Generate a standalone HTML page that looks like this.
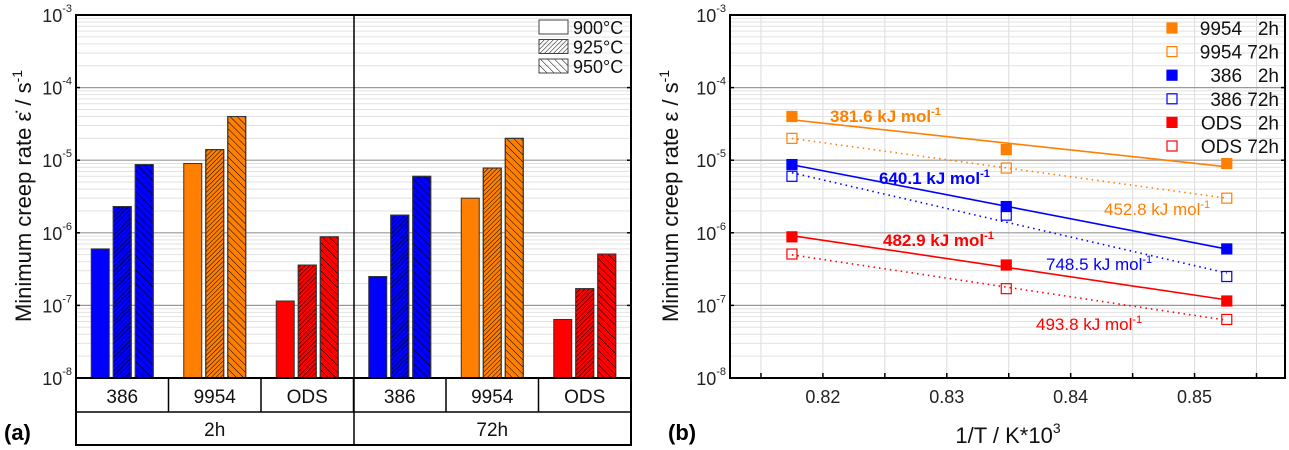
<!DOCTYPE html>
<html><head><meta charset="utf-8"><style>
body{margin:0;background:#fff;}
svg{display:block;font-family:"Liberation Sans",Arial,sans-serif;}
</style></head><body>
<svg id="fig" width="1289" height="450" viewBox="0 0 1289 450">
<defs>
<pattern id="h925" patternUnits="userSpaceOnUse" width="3.2" height="3.2" patternTransform="rotate(45)"><line x1="0" y1="0" x2="0" y2="3.2" stroke="#000" stroke-width="1"/></pattern>
<pattern id="h950" patternUnits="userSpaceOnUse" width="5" height="5" patternTransform="rotate(-45)"><line x1="0" y1="0" x2="0" y2="5" stroke="#000" stroke-width="1"/></pattern>
</defs>
<g id="L"></g><g id="R"></g>
</svg>
<script>
const groups=["2h","72h"];
const materials=["386","9954","ODS"];
const temps=["900°C","925°C","950°C"];
const colors={"386":"#0000ff","9954":"#ff8000","ODS":"#ff0000"};
const v2h_386=[6e-7,2.3e-6,8.7e-6];
const v2h_9954=[9e-6,1.4e-5,4e-5];
const v2h_ODS=[1.15e-7,3.6e-7,8.8e-7];
const v72h_386=[2.5e-7,1.75e-6,6e-6];
const v72h_9954=[3e-6,7.8e-6,2e-5];
const v72h_ODS=[6.4e-8,1.7e-7,5.1e-7];
const invT=[0.8526,0.8348,0.8175];
const yTickExp=[-3,-4,-5,-6,-7,-8];
const xTicks=[0.82,0.83,0.84,0.85];
const energies=["381.6","452.8","640.1","748.5","482.9","493.8"];

const NS="http://www.w3.org/2000/svg";
function mk(p,t,a,txt){const e=document.createElementNS(NS,t);for(const k in a)e.setAttribute(k,a[k]);if(txt!==undefined)e.textContent=txt;p.appendChild(e);return e;}
const TOP=15,BOT=378;
function ly(v){return TOP+(Math.log10(1e-3)-Math.log10(v))/5*(BOT-TOP);}
const data={"2h":{"386":v2h_386,"9954":v2h_9954,"ODS":v2h_ODS},"72h":{"386":v72h_386,"9954":v72h_9954,"ODS":v72h_ODS}};

function grid(g,x0,x1){
  for(let e=-8;e<-3;e++)for(let m=2;m<=9;m++){const y=ly(m*Math.pow(10,e));
    const l=mk(g,'line',{x1:x0,x2:x1,y1:y,y2:y,stroke:'#e2e2e2','stroke-width':1});
    }
  for(const e of yTickExp){const y=ly(Math.pow(10,e));
    if(e>-8&&e<-3){const l=mk(g,'line',{x1:x0,x2:x1,y1:y,y2:y,stroke:'#9a9a9a','stroke-width':1.2});
    }
    const t=mk(g,'text',{x:x0-4,y:y+7,'font-size':18,'text-anchor':'end',fill:'#222'});
    
    mk(t,'tspan',{},'10');mk(t,'tspan',{dy:-10,'font-size':11},String(e));
    for(const xx of [x0,x1]){mk(g,'line',{x1:xx-(xx==x0?0:4),x2:xx+(xx==x0?4:0),y1:y,y2:y,stroke:'#000','stroke-width':1.5});}
  }
}
// LEFT
(function(){
const g=document.getElementById('L');const X0=76,X1=631;const cw=(X1-X0)/6;
grid(g,X0,X1);
let ci=0;
groups.forEach((gr,gi)=>{materials.forEach((m,mi)=>{const cx=X0+cw*(ci+0.5);
  data[gr][m].forEach((v,ti)=>{const x=cx-31+ti*22;const y=ly(v);
    const r=mk(g,'rect',{x:x,y:y,width:18,height:BOT-y,fill:colors[m],stroke:'#333','stroke-width':1});
    
    if(ti>0){const h=mk(g,'rect',{x:x,y:y,width:18,height:BOT-y,fill:ti==1?'url(#h925)':'url(#h950)',stroke:'#333','stroke-width':1});
      }
  });
  const t=mk(g,'text',{x:cx,y:403,'font-size':19,'text-anchor':'middle',fill:'#111'},m);
  
  mk(g,'line',{x1:X0+cw*(ci+1),x2:X0+cw*(ci+1),y1:BOT,y2:412,stroke:'#000','stroke-width':1.5});
  ci++;});
  const t=mk(g,'text',{x:X0+cw*(gi*3+1.5),y:436,'font-size':19,'text-anchor':'middle',fill:'#111'},gr);
  
});
mk(g,'rect',{x:X0,y:TOP,width:X1-X0,height:445-TOP,fill:'none',stroke:'#000','stroke-width':2});
mk(g,'line',{x1:X0,x2:X1,y1:BOT,y2:BOT,stroke:'#000','stroke-width':2});
mk(g,'line',{x1:X0,x2:X1,y1:412,y2:412,stroke:'#000','stroke-width':1.5});
mk(g,'line',{x1:354,x2:354,y1:TOP,y2:445,stroke:'#000','stroke-width':1.5});
temps.forEach((tp,i)=>{const y=20+i*19.5;
  const r=mk(g,'rect',{x:539,y:y,width:29,height:14,fill:i==0?'#fff':(i==1?'url(#h925)':'url(#h950)'),stroke:'#444','stroke-width':1});
  
  const t=mk(g,'text',{x:573,y:y+14,'font-size':18,fill:'#111'},tp);
  });
const yt=mk(g,'text',{transform:'translate(31,196) rotate(-90)','font-size':22,'text-anchor':'middle',fill:'#111'});

mk(yt,'tspan',{},'Minimum creep rate ε̇ / s');mk(yt,'tspan',{dy:-9,'font-size':14},'-1');
const a=mk(g,'text',{x:4,y:440,'font-size':22,'font-weight':'bold',fill:'#000'},'(a)');

})();
// RIGHT
(function(){
const g=document.getElementById('R');const X0=730,X1=1285;const XMIN=0.8125,XMAX=0.8573;
const lx=v=>X0+(v-XMIN)/(XMAX-XMIN)*(X1-X0);
for(let v=0.815;v<0.857;v+=0.005){const x=lx(v);
  mk(g,'line',{x1:x,x2:x,y1:TOP,y2:BOT,stroke:'#dcdcdc','stroke-width':1});
  mk(g,'line',{x1:x,x2:x,y1:BOT-5,y2:BOT,stroke:'#000','stroke-width':1.5});}
grid(g,X0,X1);
xTicks.forEach(v=>{const t=mk(g,'text',{x:lx(v),y:403,'font-size':18,'text-anchor':'middle',fill:'#222'},v.toFixed(2));
  });
const series=[["9954","2h",true],["9954","72h",false],["386","2h",true],["386","72h",false],["ODS","2h",true],["ODS","72h",false]];
series.forEach(([m,gr,fill],si)=>{const vals=data[gr][m];const c=colors[m];
  const ys=vals.map(v=>Math.log10(v));const n=invT.length;
  const mx=invT.reduce((a,b)=>a+b)/n,my=ys.reduce((a,b)=>a+b)/n;
  let sxy=0,sxx=0;for(let i=0;i<n;i++){sxy+=(invT[i]-mx)*(ys[i]-my);sxx+=(invT[i]-mx)**2;}
  const b=sxy/sxx,a0=my-b*mx;
  const xa=Math.min(...invT),xb=Math.max(...invT);
  const l=mk(g,'line',{x1:lx(xa),y1:ly(Math.pow(10,a0+b*xa)),x2:lx(xb),y2:ly(Math.pow(10,a0+b*xb)),stroke:c,'stroke-width':1.6,'stroke-dasharray':fill?'':'1.5 4'});
  
  invT.forEach((x,i)=>{const p=mk(g,'rect',{x:lx(x)-5,y:ly(vals[i])-5,width:10,height:10,fill:fill?c:'none',stroke:c,'stroke-width':1.2});
    });
  const ly2=28+si*23.6;
  const lm=mk(g,'rect',{x:1167,y:ly2-5,width:10,height:10,fill:fill?c:'none',stroke:c,'stroke-width':1.2});
  
  const lt=mk(g,'text',{x:1279,y:ly2+7,'font-size':19,'text-anchor':'end',fill:'#111',style:'white-space:pre'},m+(gr=="2h"?"   2h":" 72h"));
  
});
const ann=[[830,122,"#ff8000",true],[1104,215,"#ff8000",false],[879,184,"#0000ff",true],[1046,270,"#0000ff",false],[883,246,"#ff0000",true],[1036,330,"#ff0000",false]];
ann.forEach(([x,y,c,bold],i)=>{const t=mk(g,'text',{x:x,y:y,'font-size':17,fill:c,'font-weight':bold?'bold':'normal'});
  
  mk(t,'tspan',{},energies[i]+' kJ mol');mk(t,'tspan',{dy:-7,'font-size':11},'-1');});
mk(g,'rect',{x:X0,y:TOP,width:X1-X0,height:BOT-TOP,fill:'none',stroke:'#000','stroke-width':2});
const yt=mk(g,'text',{transform:'translate(678,196) rotate(-90)','font-size':22,'text-anchor':'middle',fill:'#111'});

mk(yt,'tspan',{},'Minimum creep rate ε / s');mk(yt,'tspan',{dy:-9,'font-size':14},'-1');
const xt=mk(g,'text',{x:1008,y:443,'font-size':22,'text-anchor':'middle',fill:'#111'});

mk(xt,'tspan',{},'1/T / K*10');mk(xt,'tspan',{dy:-10,'font-size':14},'3');
const b=mk(g,'text',{x:668,y:440,'font-size':22,'font-weight':'bold',fill:'#000'},'(b)');

})();
</script>
</body></html>
